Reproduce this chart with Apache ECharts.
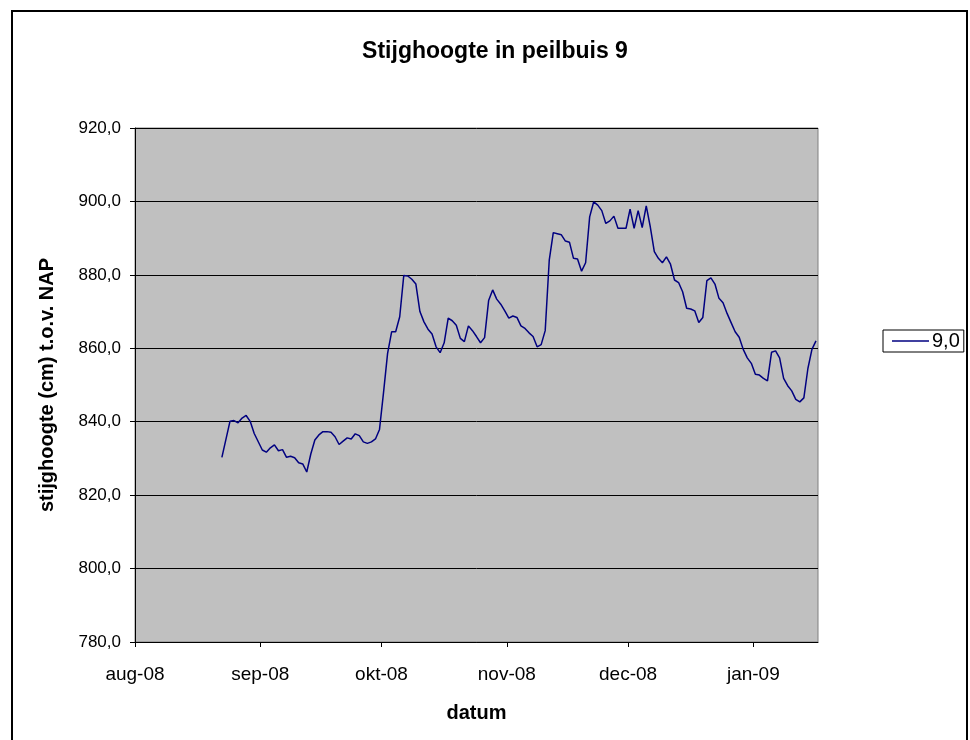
<!DOCTYPE html>
<html>
<head>
<meta charset="utf-8">
<script src="https://cdn.jsdelivr.net/npm/echarts@6/dist/echarts.min.js"></script>
<style>
  html, body { margin: 0; padding: 0; background: #fff; }
  #chart { width: 970px; height: 740px; }
</style>
</head>
<body>
<div id="chart"></div>
<script>
// ---- data ----
const dates = [
  '2008-08-22','2008-08-24','2008-08-25','2008-08-26','2008-08-27','2008-08-28','2008-08-29','2008-08-30',
  '2008-09-01','2008-09-02','2008-09-03','2008-09-04','2008-09-05','2008-09-06','2008-09-07','2008-09-08',
  '2008-09-09','2008-09-10','2008-09-11','2008-09-12','2008-09-13','2008-09-14','2008-09-15','2008-09-16',
  '2008-09-17','2008-09-18','2008-09-19','2008-09-20','2008-09-21','2008-09-22','2008-09-23','2008-09-24',
  '2008-09-25','2008-09-26','2008-09-27','2008-09-28','2008-09-29','2008-09-30',
  '2008-10-01','2008-10-02','2008-10-03','2008-10-04','2008-10-05','2008-10-06','2008-10-07','2008-10-08',
  '2008-10-09','2008-10-10','2008-10-11','2008-10-12','2008-10-13','2008-10-14','2008-10-15','2008-10-16',
  '2008-10-17','2008-10-18','2008-10-19','2008-10-20','2008-10-21','2008-10-22','2008-10-23','2008-10-24',
  '2008-10-25','2008-10-26','2008-10-27','2008-10-28','2008-10-29','2008-10-30','2008-10-31',
  '2008-11-01','2008-11-02','2008-11-03','2008-11-04','2008-11-05','2008-11-06','2008-11-07','2008-11-08',
  '2008-11-09','2008-11-10','2008-11-11','2008-11-12','2008-11-13','2008-11-14','2008-11-15','2008-11-16',
  '2008-11-17','2008-11-18','2008-11-19','2008-11-20','2008-11-21','2008-11-22','2008-11-23','2008-11-24',
  '2008-11-25','2008-11-26','2008-11-27','2008-11-28','2008-11-29','2008-11-30',
  '2008-12-01','2008-12-02','2008-12-03','2008-12-04','2008-12-05','2008-12-06','2008-12-07','2008-12-08',
  '2008-12-09','2008-12-10','2008-12-11','2008-12-12','2008-12-13','2008-12-14','2008-12-15','2008-12-16',
  '2008-12-17','2008-12-18','2008-12-19','2008-12-20','2008-12-21','2008-12-22','2008-12-23','2008-12-24',
  '2008-12-25','2008-12-26','2008-12-27','2008-12-28','2008-12-29','2008-12-30','2008-12-31',
  '2009-01-01','2009-01-02','2009-01-03','2009-01-04','2009-01-05','2009-01-06','2009-01-07','2009-01-08',
  '2009-01-09','2009-01-10','2009-01-11','2009-01-12','2009-01-13','2009-01-14','2009-01-15','2009-01-16'
];
const values = [
  830.3, 840.1, 840.3, 839.7, 841.0, 841.7, 840.1, 836.8,
  832.3, 831.7, 832.9, 833.7, 832.1, 832.4, 830.3, 830.6,
  830.2, 828.8, 828.5, 826.3, 831.2, 835.0, 836.4, 837.3,
  837.3, 837.1, 835.9, 833.8, 834.7, 835.6, 835.3, 836.7,
  836.2, 834.5, 834.1, 834.5, 835.3, 837.9,
  848.0, 858.6, 864.5, 864.5, 868.6, 879.8, 879.7, 878.8,
  877.5, 870.0, 867.2, 865.2, 863.9, 860.4, 858.8, 861.5,
  868.2, 867.5, 866.3, 862.7, 861.8, 866.1, 864.8, 863.2,
  861.5, 862.9, 873.0, 875.9, 873.4, 872.0, 870.2,
  868.2, 868.8, 868.4, 866.1, 865.4, 864.2, 863.2, 860.4,
  861.0, 864.8, 884.0, 891.5, 891.2, 890.9, 889.2, 888.9,
  884.5, 884.3, 881.0, 883.3, 895.8, 899.9, 899.0, 897.5,
  894.0, 894.7, 896.0, 892.7, 892.7, 892.7,
  897.9, 892.7, 897.5, 892.9, 898.8, 893.1, 886.3, 884.5,
  883.3, 884.9, 882.9, 878.6, 877.9, 875.4, 870.9, 870.7,
  870.2, 867.0, 868.4, 878.4, 879.2, 877.5, 873.6, 872.4,
  869.5, 867.0, 864.5, 863.0, 859.7, 857.4, 855.9,
  852.9, 852.7, 851.8, 851.1, 858.9, 859.3, 857.4, 851.8,
  849.8, 848.4, 846.1, 845.4, 846.5, 854.5, 859.7, 862.0
];
const seriesName = '9,0';
const tickDates = ['2008-08-01','2008-09-01','2008-10-01','2008-11-01','2008-12-01','2009-01-01'];
const tickLabels = ['aug-08','sep-08','okt-08','nov-08','dec-08','jan-09'];
const axisStart = '2008-08-01';
const axisEnd = '2009-01-17';
const yMin = 780, yMax = 920, yStep = 20;

// ---- chart ----
const FONT = '"Liberation Sans", Arial, sans-serif';
const DAY = 86400000;
const ts = s => Date.UTC(+s.slice(0, 4), +s.slice(5, 7) - 1, +s.slice(8, 10));
const tickTs = tickDates.map(ts);
// points sit in the middle of their day slot (date axis "between dates")
const seriesData = dates.map((d, i) => [ts(d) + DAY / 2, values[i]]);

const chart = echarts.init(document.getElementById('chart'), null, { renderer: 'canvas' });
chart.setOption({
  animation: false,
  backgroundColor: '#ffffff',
  textStyle: { fontFamily: FONT },
  title: {
    text: 'Stijghoogte in peilbuis 9',
    left: 490, top: 35, textAlign: 'center',
    textStyle: { fontFamily: FONT, fontWeight: 'bold', fontSize: 23, color: '#000' }
  },
  grid: {
    left: 135, top: 128, width: 683, height: 514,
    show: true, backgroundColor: '#C0C0C0', borderColor: '#808080', borderWidth: 1
  },
  legend: {
    data: [seriesName],
    left: 883, top: 330,
    orient: 'vertical',
    borderColor: '#000', borderWidth: 1,
    padding: [1, 4, 1, 9],
    icon: 'rect',
    itemWidth: 37, itemHeight: 1.5, itemGap: 4,
    textStyle: { fontFamily: FONT, fontSize: 20, color: '#000', padding: [0, 0, 0, -2] }
  },
  xAxis: {
    type: 'value',
    min: ts(axisStart), max: ts(axisEnd),
    name: 'datum', nameLocation: 'middle', nameGap: 61,
    nameTextStyle: { fontFamily: FONT, fontWeight: 'bold', fontSize: 20, color: '#000' },
    axisLine: { onZero: false, lineStyle: { color: '#000', width: 1 } },
    axisTick: { show: true, length: 5, inside: false, customValues: tickTs, lineStyle: { color: '#000' } },
    axisLabel: {
      customValues: tickTs,
      margin: 23, fontFamily: FONT, fontSize: 19, color: '#000',
      formatter: v => {
        const i = tickTs.indexOf(v);
        return i >= 0 ? tickLabels[i] : '';
      }
    },
    splitLine: { show: false }
  },
  yAxis: {
    type: 'value',
    min: yMin, max: yMax, interval: yStep,
    name: 'stijghoogte (cm) t.o.v. NAP', nameLocation: 'middle', nameGap: 78, nameRotate: 90,
    nameTextStyle: { fontFamily: FONT, fontWeight: 'bold', fontSize: 20, color: '#000' },
    axisLine: { show: true, lineStyle: { color: '#000', width: 1 } },
    axisTick: { show: true, length: 5, inside: false, lineStyle: { color: '#000' } },
    axisLabel: {
      margin: 14, fontFamily: FONT, fontSize: 17, color: '#000',
      formatter: v => v.toFixed(1).replace('.', ',')
    },
    splitLine: { show: true, lineStyle: { color: '#000', width: 1 } }
  },
  series: [{
    name: seriesName,
    type: 'line',
    data: seriesData,
    showSymbol: false,
    symbol: 'none',
    lineStyle: { color: '#000080', width: 1.5 },
    itemStyle: { color: '#000080' }
  }],
  graphic: [{
    type: 'rect', silent: true, z: 100,
    shape: { x: 12, y: 11, width: 955, height: 800 },
    style: { fill: 'none', stroke: '#000', lineWidth: 2 }
  }]
});
</script>
</body>
</html>
